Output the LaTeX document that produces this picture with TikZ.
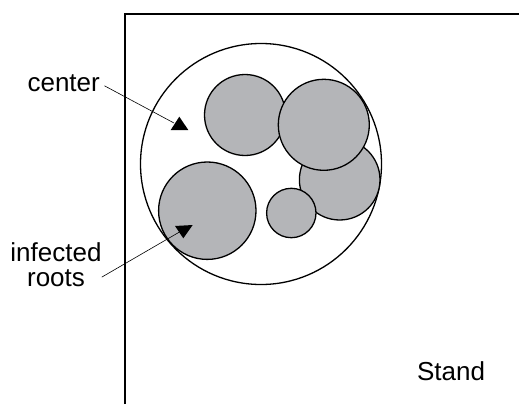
\documentclass[tikz,border=0pt]{standalone}
\usepackage{fontspec}
\setmainfont{Liberation Sans}
\definecolor{rootgray}{HTML}{B4B5B8}
\begin{document}
\begin{tikzpicture}[x=1pt, y=-1pt,
  root/.style={draw, line width=1.3pt, fill=rootgray},
  lbl/.style={font=\fontsize{26}{25}\selectfont, align=center, inner sep=0pt},
  pointer/.style={line width=0.6pt}]
\useasboundingbox (0,0) rectangle (519,404);

% Stand border
\draw[line width=1.3pt] (125,404) -- (125,14) -- (519,14);

% Stump and infected roots
\draw[line width=1.3pt] (261,164) circle [radius=120.5];
\draw[root] (245,115) circle [radius=40.5];
\draw[root] (339.7,179.7) circle [radius=40.3];
\draw[root] (323.8,124.8) circle [radius=45.5];
\draw[root] (291.3,213) circle [radius=24.7];
\draw[root] (207.3,210.7) circle [radius=48.7];

% Labels
\node[lbl, anchor=base] (lblcenter) at (63.7,91.7) {center};
\node[lbl, anchor=base] (lblroots) at (56,286.7) {infected\\roots};
\node[lbl, anchor=base] (lblstand) at (451,380) {Stand};

% Pointers
\coordinate (tipcenter) at (174,123);
\coordinate (tiproots) at (180,231.7);
\fill (179.3,116.7) -- (188.3,130) -- (170.7,130) -- cycle;
\fill (175,226) -- (192.7,225) -- (183.3,238.3) -- cycle;
\draw[pointer, shorten <=5pt] (lblcenter.east) -- (tipcenter);
\draw[pointer] ([yshift=10pt]lblroots.south east) -- (tiproots);
\end{tikzpicture}
\end{document}
